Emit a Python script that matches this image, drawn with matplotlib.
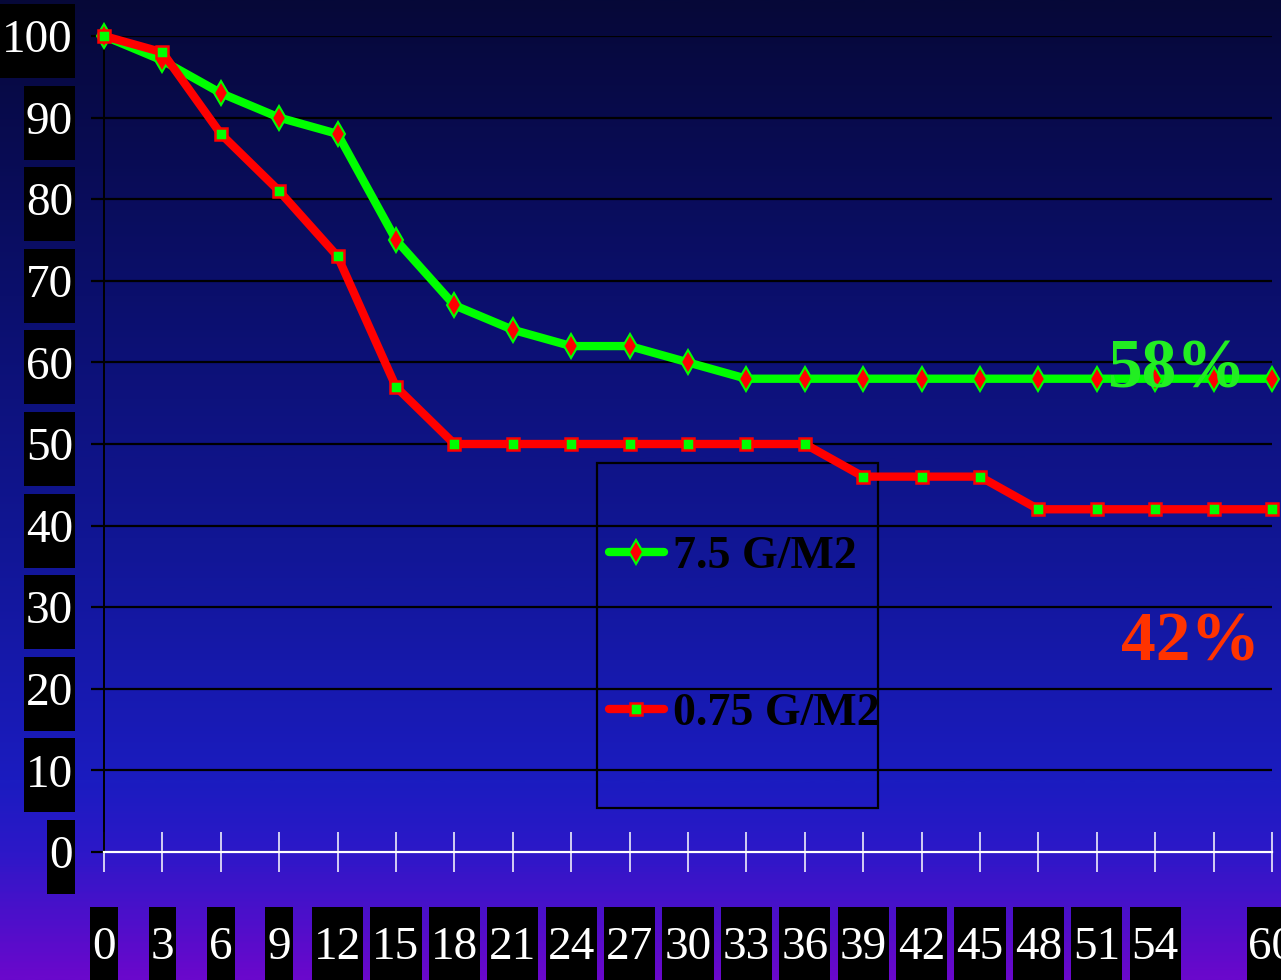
import matplotlib
matplotlib.use('Agg')
import matplotlib.pyplot as plt
import numpy as np
from matplotlib.colors import LinearSegmentedColormap
from matplotlib.patches import Rectangle
from matplotlib.transforms import IdentityTransform

# data
days = [0, 3, 6, 9, 12, 15, 18, 21, 24, 27, 30, 33, 36, 39, 42, 45, 48, 51, 54, 57, 60]
high_dose = [100, 97, 93, 90, 88, 75, 67, 64, 62, 62, 60, 58, 58, 58, 58, 58, 58, 58, 58, 58, 58]
low_dose = [100, 98, 88, 81, 73, 57, 50, 50, 50, 50, 50, 50, 50, 46, 46, 46, 42, 42, 42, 42, 42]
x_labels = ['0', '3', '6', '9', '12', '15', '18', '21', '24', '27', '30',
            '33', '36', '39', '42', '45', '48', '51', '54', '', '60']
y_ticks = [0, 10, 20, 30, 40, 50, 60, 70, 80, 90, 100]
series_names = ['7.5 G/M2', '0.75 G/M2']
end_labels = ['58%', '42%']

plt.rcParams['font.family'] = ['Liberation Serif', 'DejaVu Serif']

W, H = 1281, 980
fig = plt.figure(figsize=(W / 100, H / 100), dpi=100)

# background gradient
bg = fig.add_axes([0, 0, 1, 1], zorder=-10)
cmap = LinearSegmentedColormap.from_list('bg', [
    (0.0, '#060838'), (0.3, '#0b0f6c'), (0.55, '#111694'),
    (0.8, '#1b1cc0'), (0.87, '#2c18c8'), (1.0, '#6a08cc')])
bg.imshow(np.linspace(0, 1, 400).reshape(-1, 1), aspect='auto', cmap=cmap,
          extent=[0, 1, 0, 1])
bg.axis('off')

ax = fig.add_axes([104 / W, 1 - 852 / H, 1168 / W, 816 / H])
ax.set_facecolor('none')
ax.set_xlim(0, 60)
ax.set_ylim(0, 100)

ax.plot(days, high_dose, color='#00ff00', lw=6, marker='d', ms=12,
        mfc='#ff0000', mec='#00ff00', mew=1.5, clip_on=False, zorder=3,
        label=series_names[0], solid_capstyle='round')
ax.plot(days, low_dose, color='#ff0000', lw=6, marker='s', ms=8.5,
        mfc='#00ff00', mec='#ff0000', mew=1.8, clip_on=False, zorder=4,
        label=series_names[1], solid_capstyle='round')

ax.text(55.1, 56.9, end_labels[0], color='#22ee22', fontsize=50,
        fontweight='bold', ha='center', va='baseline', zorder=6)
ax.text(55.8, 23.5, end_labels[1], color='#ff3300', fontsize=50,
        fontweight='bold', ha='center', va='baseline', zorder=6)

ax.set_yticks(y_ticks)
ax.set_xticks(days)
ax.set_xticklabels(x_labels)
ax.yaxis.grid(True, color='black', lw=1.6)
ax.set_axisbelow('line')

for s in ['top', 'right']:
    ax.spines[s].set_visible(False)
ax.spines['left'].set_color('black')
ax.spines['left'].set_linewidth(1.4)
ax.spines['bottom'].set_color('white')
ax.spines['bottom'].set_linewidth(1.6)
ax.spines['bottom'].set_zorder(2.6)

ax.tick_params(axis='y', direction='out', length=9.4, width=1.6, color='black',
               labelcolor='white', labelsize=34, pad=13)
ax.tick_params(axis='x', direction='inout', length=29, width=1.1, color='white',
               labelcolor='white', labelsize=34, pad=39)

# legend with a plain frame
leg = ax.legend(loc='center left', bbox_to_anchor=(0.432, 0.265), frameon=False,
                prop={'size': 33, 'weight': 'bold'}, labelspacing=2.5,
                handlelength=1.2, handletextpad=0.2, borderpad=0, borderaxespad=0)
ax.add_patch(Rectangle((0.422, 0.054), 0.241, 0.423, transform=ax.transAxes,
                       fill=False, ec='black', lw=1.6, zorder=2))

# black boxes behind tick labels
fig.canvas.draw()
for lab in ax.get_yticklabels():
    bb = lab.get_window_extent()
    cy = (bb.y0 + bb.y1) / 2
    fig.add_artist(Rectangle((bb.x0 - 2, cy - 37), bb.width + 4, 74,
                             transform=IdentityTransform(), fc='black',
                             ec='none', zorder=-5))
for lab in ax.get_xticklabels():
    if not lab.get_text():
        continue
    bb = lab.get_window_extent()
    fig.add_artist(Rectangle((bb.x0 - 2, 0), bb.width + 4, H - 907,
                             transform=IdentityTransform(), fc='black',
                             ec='none', zorder=-5))

fig.savefig('out.png', dpi=100)
